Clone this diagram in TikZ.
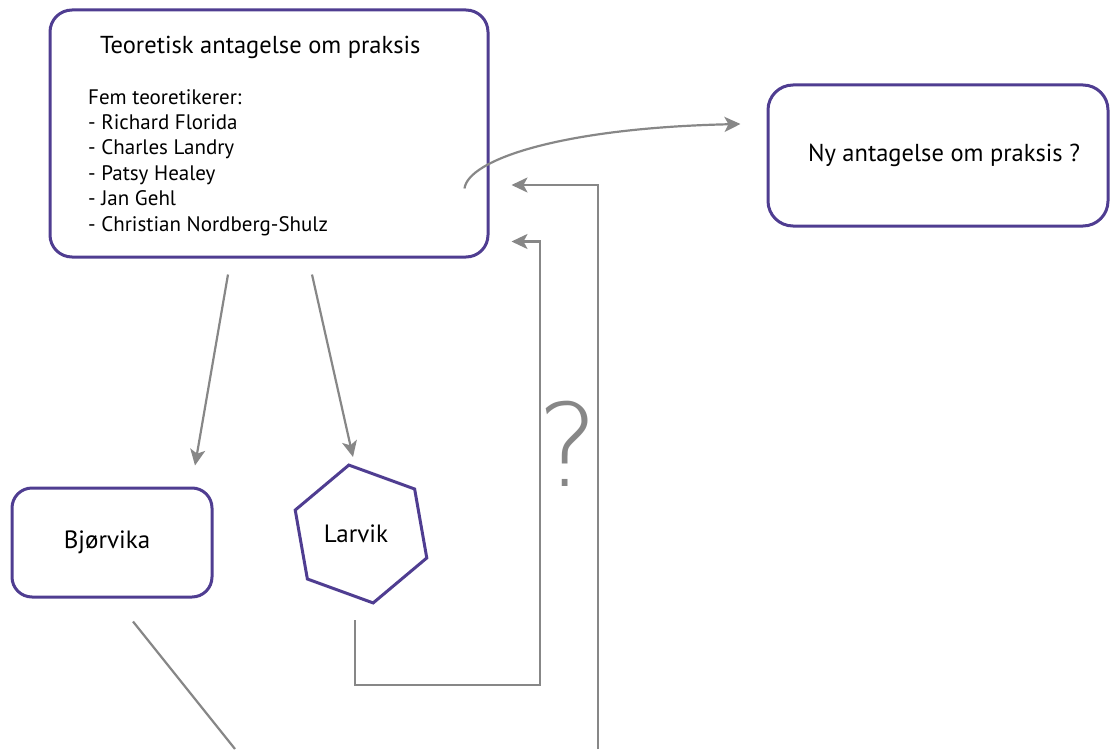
\documentclass[tikz,border=0pt]{standalone}
\usepackage{fontspec}
\setmainfont{PT Sans}
\IfFontExistsTF{DejaVu Sans ExtraLight}{\newfontfamily\qmarkfont{DejaVu Sans ExtraLight}}{\newfontfamily\qmarkfont{PT Sans}}
\usepackage{xcolor}
\definecolor{framepurple}{HTML}{4F3D91}
\definecolor{linkgray}{HTML}{878787}
\usetikzlibrary{shapes.geometric,arrows.meta,calc,positioning}

\begin{document}
\begin{tikzpicture}[
        x=1pt, y=-1pt,
        box/.style={rectangle, draw=framepurple, line width=3pt, rounded corners=22pt, inner sep=0pt, font=\fontsize{24.5}{28}\selectfont},
        hexbox/.style={regular polygon, regular polygon sides=6, shape border rotate=-20, draw=framepurple, line width=3pt, minimum size=140pt, inner sep=0pt, font=\fontsize{25}{28}\selectfont},
        link/.style={draw=linkgray, line width=2.2pt},
        arrow/.style={link, -{Stealth[length=16pt, width=15pt, inset=4pt]}}
    ]
        \useasboundingbox (0,0) rectangle (1110,749);
        \node[box, minimum width=438pt, minimum height=247pt] (theory) at (269,133.5) {};
        \node[anchor=base west, inner sep=0pt, font=\fontsize{24.5}{28}\selectfont] (theorytitle) at (100,54) {Teoretisk antagelse om praksis};
        \node[anchor=north west, inner sep=0pt, align=left, font=\fontsize{21}{25.4}\selectfont] (theorylist) at (88,89) {Fem teoretikerer:\\- Richard Florida\\- Charles Landry\\- Patsy Healey\\- Jan Gehl\\- Christian Nordberg-Shulz};
        \node[box, minimum width=340pt, minimum height=141pt, rounded corners=25pt] (newtheory) at (938,155.5) {\hspace{12pt}Ny antagelse om praksis ?};
        \node[box, minimum width=200pt, minimum height=109pt, rounded corners=20pt, font=\fontsize{25}{28}\selectfont] (bjorvika) at (112,542.5) {Bjørvika\kern10pt};
        \node[hexbox] (larvik) at (361,534) {Larvik\kern10pt};
        \node[text=linkgray, font=\qmarkfont\fontsize{115}{115}\selectfont] (question) at (568,444) {?};
        \coordinate (bjend) at (235,749);
        \coordinate (bottomend) at (598,749);
        \coordinate (larvikturn) at (540,685);

        \draw[arrow] ($(theory.south)+(-41,16)$) -- ($(bjorvika.north)+(83,-21)$);
        \draw[arrow] ($(theory.south)+(43,16)$) -- ($(larvik.center)+(-8,-77)$);
        \draw[link] ($(bjorvika.south)+(21,23)$) -- (bjend);
        \draw[arrow] ($(larvik.center)+(-6,86)$) |- (larvikturn) |- ($(theory.south east)+(22,-17)$);
        \draw[arrow] (bottomend) |- ($(theory.east)+(22,51.5)$);
        \draw[arrow] ($(theory.south east)+(-25,-70)$) .. controls (468,160) and (560,128) .. ($(newtheory.west)+(-26,-31.5)$);
    \end{tikzpicture}
\end{document}
